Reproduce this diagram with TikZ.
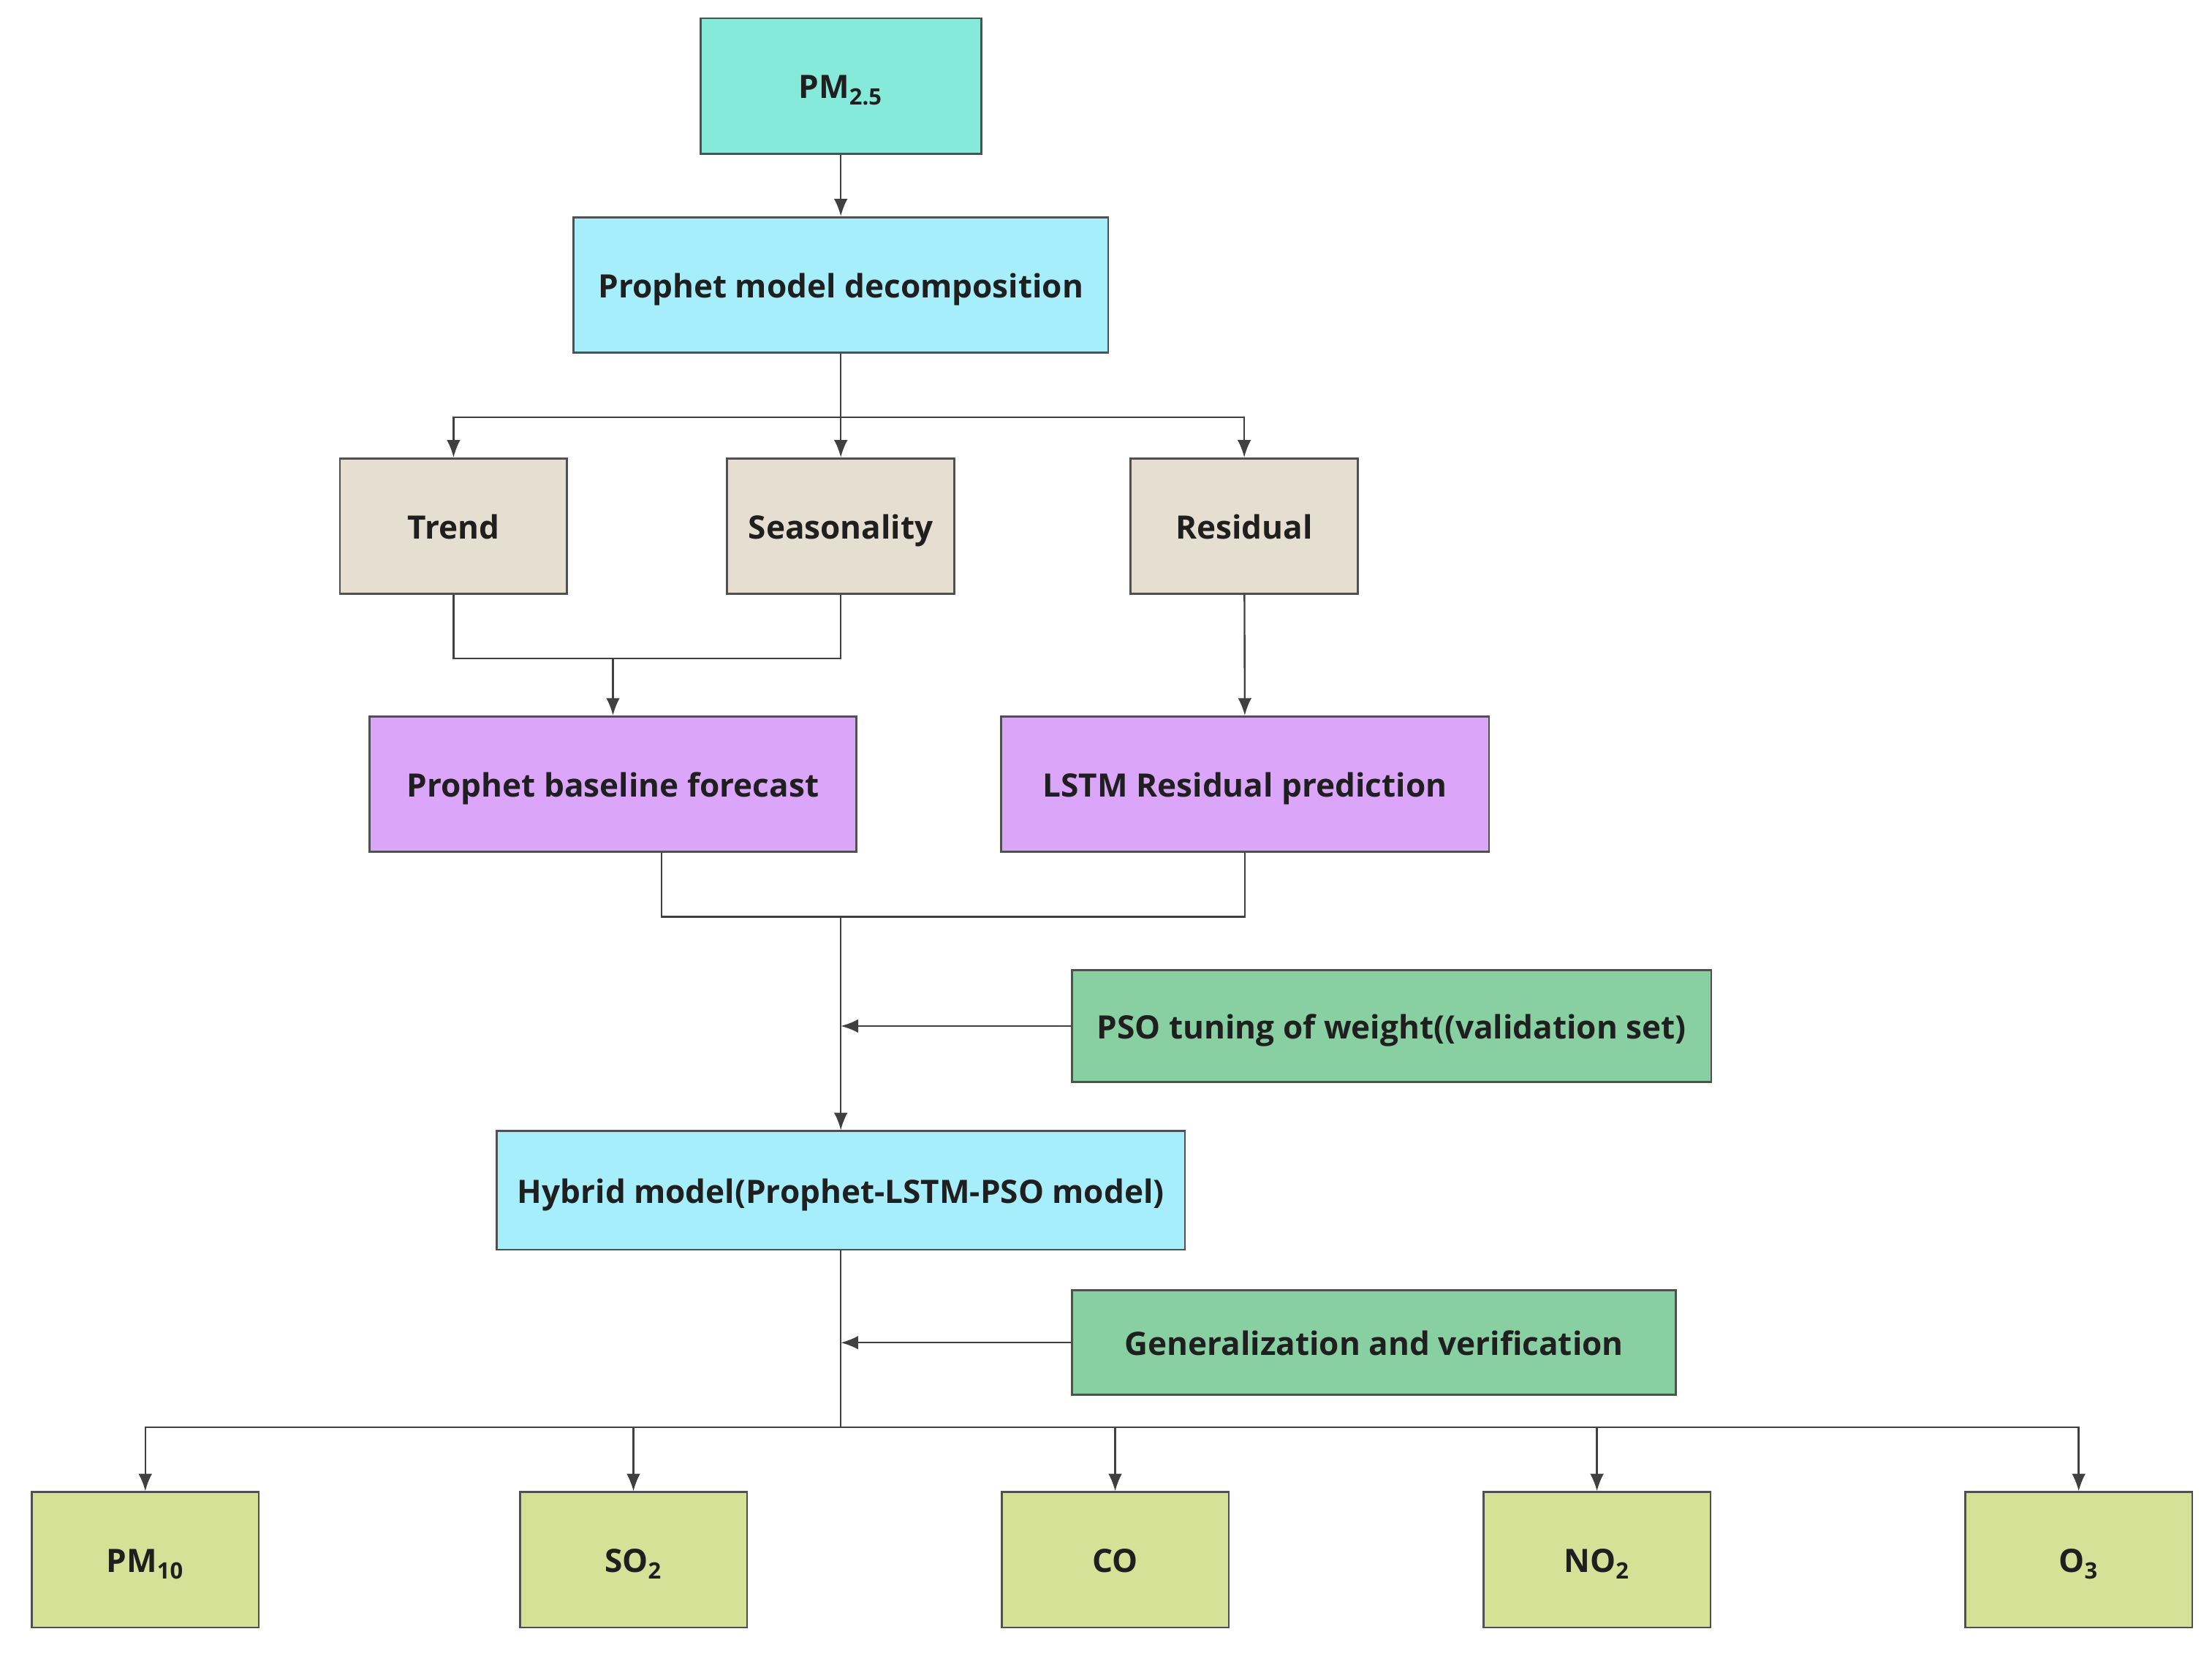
\documentclass[tikz,border=0pt]{standalone}
\usepackage{fontspec}
\setmainfont{Open Sans}
\usetikzlibrary{arrows.meta}

\definecolor{pmfill}{HTML}{86EADB}
\definecolor{cyanfill}{HTML}{A6EEFB}
\definecolor{partfill}{HTML}{E6DFD1}
\definecolor{lilacfill}{HTML}{DBA5FA}
\definecolor{greenfill}{HTML}{88CFA2}
\definecolor{limefill}{HTML}{D4E196}
\definecolor{edgegray}{HTML}{505050}
\definecolor{linegray}{HTML}{404040}

\begin{document}
\begin{tikzpicture}[
	box/.style={draw=edgegray, line width=0.8pt, minimum height=1.92cm, inner sep=0pt,
		text height=2.25ex, text depth=0.35ex,
		font=\fontsize{13}{15}\selectfont\bfseries, text=black!88},
	link/.style={draw=linegray, line width=0.7pt},
	>={Latex[length=7pt,width=5.5pt]}
	]
	\useasboundingbox (0,0) rectangle (31.36,-23.48);
	
	\node[box, fill=pmfill, minimum width=3.98cm] (pm25) at (11.92,-1.22) {PM\textsubscript{2.5}};
	\node[box, fill=cyanfill, minimum width=7.58cm] (prophet) at (11.92,-4.04) {Prophet model decomposition};
	
	\node[box, fill=partfill, minimum width=3.22cm] (trend) at (6.43,-7.46) {Trend};
	\node[box, fill=partfill, minimum width=3.22cm] (season) at (11.92,-7.46) {Seasonality};
	\node[box, fill=partfill, minimum width=3.22cm] (resid) at (17.64,-7.46) {Residual};
	
	\node[box, fill=lilacfill, minimum width=6.9cm] (baseline) at (8.69,-11.12) {Prophet baseline forecast};
	\node[box, fill=lilacfill, minimum width=6.92cm] (lstm) at (17.65,-11.12) {LSTM Residual prediction};
	
	\node[box, fill=greenfill, minimum width=9.06cm, minimum height=1.58cm] (pso) at (19.73,-14.55) {PSO tuning of weight((validation set)};
	\node[box, fill=cyanfill, minimum width=9.76cm, minimum height=1.68cm] (hybrid) at (11.92,-16.88) {Hybrid model(Prophet-LSTM-PSO model)};
	\node[box, fill=greenfill, minimum width=8.56cm, minimum height=1.48cm] (gen) at (19.48,-19.04) {Generalization and verification};
	
	\node[box, fill=limefill, minimum width=3.22cm] (pm10) at (2.06,-22.12) {PM\textsubscript{10}};
	\node[box, fill=limefill, minimum width=3.22cm] (so2) at (8.98,-22.12) {SO\textsubscript{2}};
	\node[box, fill=limefill, minimum width=3.22cm] (co) at (15.81,-22.12) {CO};
	\node[box, fill=limefill, minimum width=3.22cm] (no2) at (22.64,-22.12) {NO\textsubscript{2}};
	\node[box, fill=limefill, minimum width=3.22cm] (o3) at (29.47,-22.12) {O\textsubscript{3}};
	
	\coordinate (split) at (11.92,-5.92);
	\coordinate (merge) at (8.69,-9.34);
	\coordinate (combine) at (11.92,-13.0);
	\coordinate (spread) at (11.92,-20.24);
	
	\draw[link,->] (pm25) -- (prophet);
	
	\draw[link] (prophet) -- (split);
	\draw[link,->] (split) -| (trend);
	\draw[link,->] (split) -- (season);
	\draw[link,->] (split) -| (resid);
	
	\draw[link] (trend) |- (merge) -| (season);
	\draw[link,->] (merge) -- (baseline);
	\draw[link,->] (resid) -- (lstm);
	
	\draw[link] ([xshift=0.69cm]baseline.south) |- (combine) -| (lstm);
	\draw[link,->] (combine) -- (hybrid);
	\draw[link,->] (pso) -- (pso -| combine);
	
	\draw[link] (hybrid) -- (spread);
	\draw[link,->] (gen) -- (gen -| spread);
	\draw[link,->] (spread) -| (pm10);
	\draw[link,->] (spread) -| (so2);
	\draw[link,->] (spread) -| (co);
	\draw[link,->] (spread) -| (no2);
	\draw[link,->] (spread) -| (o3);
\end{tikzpicture}
\end{document}
